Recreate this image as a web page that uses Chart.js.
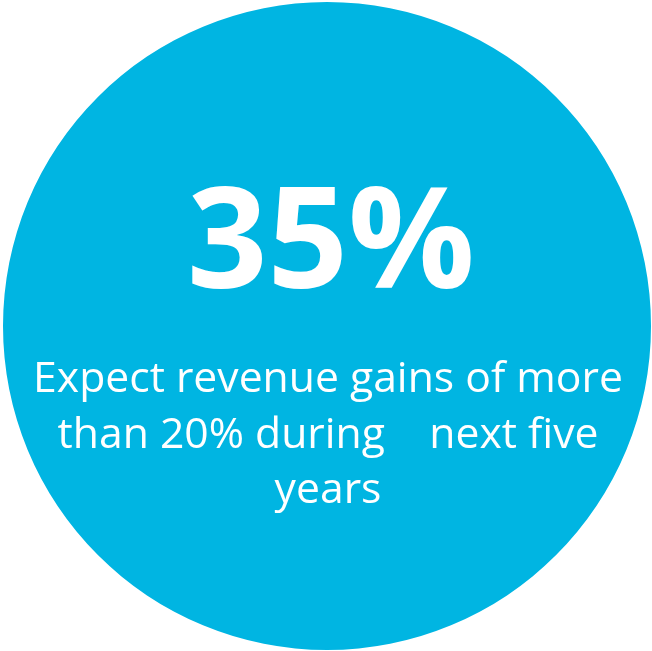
<html>
<head>
  <meta name="viewport" content="width=device-width, initial-scale=1">
  <script type="text/javascript" src="https://cdn.jsdelivr.net/npm/chart.js@4.4.0/dist/chart.umd.min.js"></script>
  <style>
    html, body { margin: 0; padding: 0; background: #fff; }
    #wrap { width: 652px; height: 651px; position: relative; }
  </style>
</head>
<body>
  <div id="wrap"><canvas id="ctx"></canvas></div>

  <script type="text/javascript">

    // single slice = the whole circle
    labels = ["Expect revenue gains"];
    values = [100];
    bigText = "35%";
    lines = ["Expect revenue gains of more", "than 20% during    next five", "years"];

    fill = "#00b5e2";

    // draws the text on top of the pie
    centerText = {
      id: "centerText",
      afterDraw: function(chart) {
        var c = chart.ctx;
        var arc = chart.getDatasetMeta(0).data[0];
        var cx = arc.x;
        c.save();
        c.fillStyle = "#fff";
        c.textAlign = "center";
        c.textBaseline = "alphabetic";

        // big number, sized to the picture width
        c.font = "bold 100px 'Open Sans'";
        var w = c.measureText(bigText).width;
        var sz = 100 * 288 / w;
        c.font = "bold " + sz + "px 'Open Sans'";
        c.fillText(bigText, cx + 4, 288);

        c.font = "36px 'Open Sans'";
        w = c.measureText(lines[0]).width;
        sz = 36 * 590 / w;
        c.font = sz + "px 'Open Sans'";
        var y = [392, 448, 503];
        for (var i = 0; i < lines.length; i++) {
          c.fillText(lines[i], cx + 1, y[i]);
        }
        c.restore();
      }
    };

    chart = new Chart(document.getElementById("ctx"), {
      type: "pie",
      data: {
        labels: labels,
        datasets: [{
          data: values,
          backgroundColor: [fill],
          borderWidth: 0
        }]
      },
      options: {
        responsive: true,
        maintainAspectRatio: false,
        animation: false,
        layout: { padding: { left: 3, right: 1, top: 2, bottom: 1 } },
        plugins: {
          legend: { display: false },
          tooltip: { enabled: false }
        }
      },
      plugins: [centerText]
    });

  </script>
</body>
</html>
